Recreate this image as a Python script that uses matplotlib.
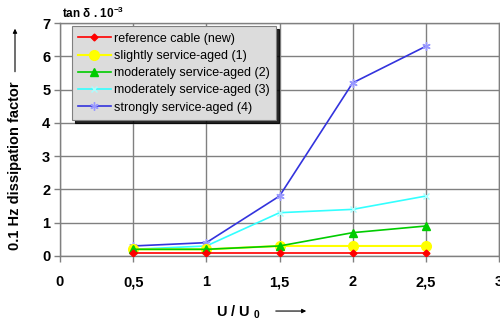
import matplotlib
matplotlib.use("Agg")
import matplotlib.pyplot as plt
from matplotlib.patches import FancyArrowPatch

plt.rcParams['font.family'] = ['Liberation Sans', 'DejaVu Sans']
plt.rcParams['mathtext.fontset'] = 'custom'
plt.rcParams['mathtext.rm'] = 'Liberation Sans'
plt.rcParams['mathtext.bf'] = 'Liberation Sans:bold'

x = [0.5, 1.0, 1.5, 2.0, 2.5]
ref_new = [0.1, 0.1, 0.1, 0.1, 0.1]
slight1 = [0.2, 0.2, 0.3, 0.3, 0.3]
moderate2 = [0.2, 0.2, 0.3, 0.7, 0.9]
moderate3 = [0.2, 0.3, 1.3, 1.4, 1.8]
strong4 = [0.3, 0.4, 1.8, 5.2, 6.3]

labels = ["reference cable (new)", "slightly service-aged (1)",
          "moderately service-aged (2)", "moderately service-aged (3)",
          "strongly service-aged (4)"]
xticks = [0, 0.5, 1, 1.5, 2, 2.5, 3]
xticklabels = ["0", "0,5", "1", "1,5", "2", "2,5", "3"]
yticks = [0, 1, 2, 3, 4, 5, 6, 7]

fig = plt.figure(figsize=(5.0, 3.24), dpi=100)
ax = fig.add_axes([0.12, 0.21, 0.878, 0.719])

ax.plot(x, ref_new, color='#ff0000', lw=1.2, marker='D', ms=3.5, label=labels[0], zorder=5)
ax.plot(x, slight1, color='#ffff00', lw=1.5, marker='o', ms=7, label=labels[1], zorder=4)
ax.plot(x, moderate2, color='#00cc00', lw=1.2, marker='^', ms=6, label=labels[2], zorder=4)
ax.plot(x, moderate3, color='#33ffff', lw=1.2, marker='x', ms=5, mec='#aaffff', label=labels[3], zorder=3)
ax.plot(x, strong4, color='#3333dd', lw=1.2, marker=(6, 2, 0), ms=6, mec='#9999ff', label=labels[4], zorder=3)

ax.set_xlim(0, 3)
ax.set_ylim(0, 7)
ax.set_xticks(xticks)
ax.set_xticklabels(xticklabels)
ax.set_yticks(yticks)
for lab in ax.get_xticklabels() + ax.get_yticklabels():
    lab.set_fontweight('bold')
    lab.set_fontsize(10.5)
ax.tick_params(axis='x', length=4, width=1, color='#808080', pad=10)
ax.tick_params(axis='y', length=4, width=1, color='#808080', pad=3)
ax.grid(True, color='#808080', lw=1)
for s in ax.spines.values():
    s.set_color('#808080')
    s.set_linewidth(1)
ax.set_axisbelow(True)

leg = ax.legend(loc='upper left', bbox_to_anchor=(0.027, 0.985), borderaxespad=0,
                fontsize=9, frameon=True, fancybox=False,
                shadow={'color': '#000000', 'alpha': 0.85},
                facecolor='#dcdcdc', edgecolor='#808080', framealpha=1,
                handlelength=2.6, labelspacing=0.42, borderpad=0.5, handletextpad=0.3)
leg.get_frame().set_linewidth(0.8)

fig.text(0.125, 0.96, "tan δ . 10$^{\\mathbf{-3}}$", fontsize=8.5,
         fontweight='bold', ha='left', va='center')

fig.text(0.03, 0.49, "0.1 Hz dissipation factor", rotation=90, fontsize=10.5,
         fontweight='bold', ha='center', va='center')
fig.add_artist(FancyArrowPatch((0.03, 0.77), (0.03, 0.92),
               transform=fig.transFigure, arrowstyle='-|>', mutation_scale=6,
               color='black', lw=0.8))

fig.text(0.477, 0.037, "U / U $_{\\mathbf{0}}$", fontsize=10.5, fontweight='bold',
         ha='center', va='center')
fig.add_artist(FancyArrowPatch((0.546, 0.04), (0.618, 0.04),
               transform=fig.transFigure, arrowstyle='-|>', mutation_scale=6,
               color='black', lw=0.8))

fig.savefig("out.png", dpi=100)
